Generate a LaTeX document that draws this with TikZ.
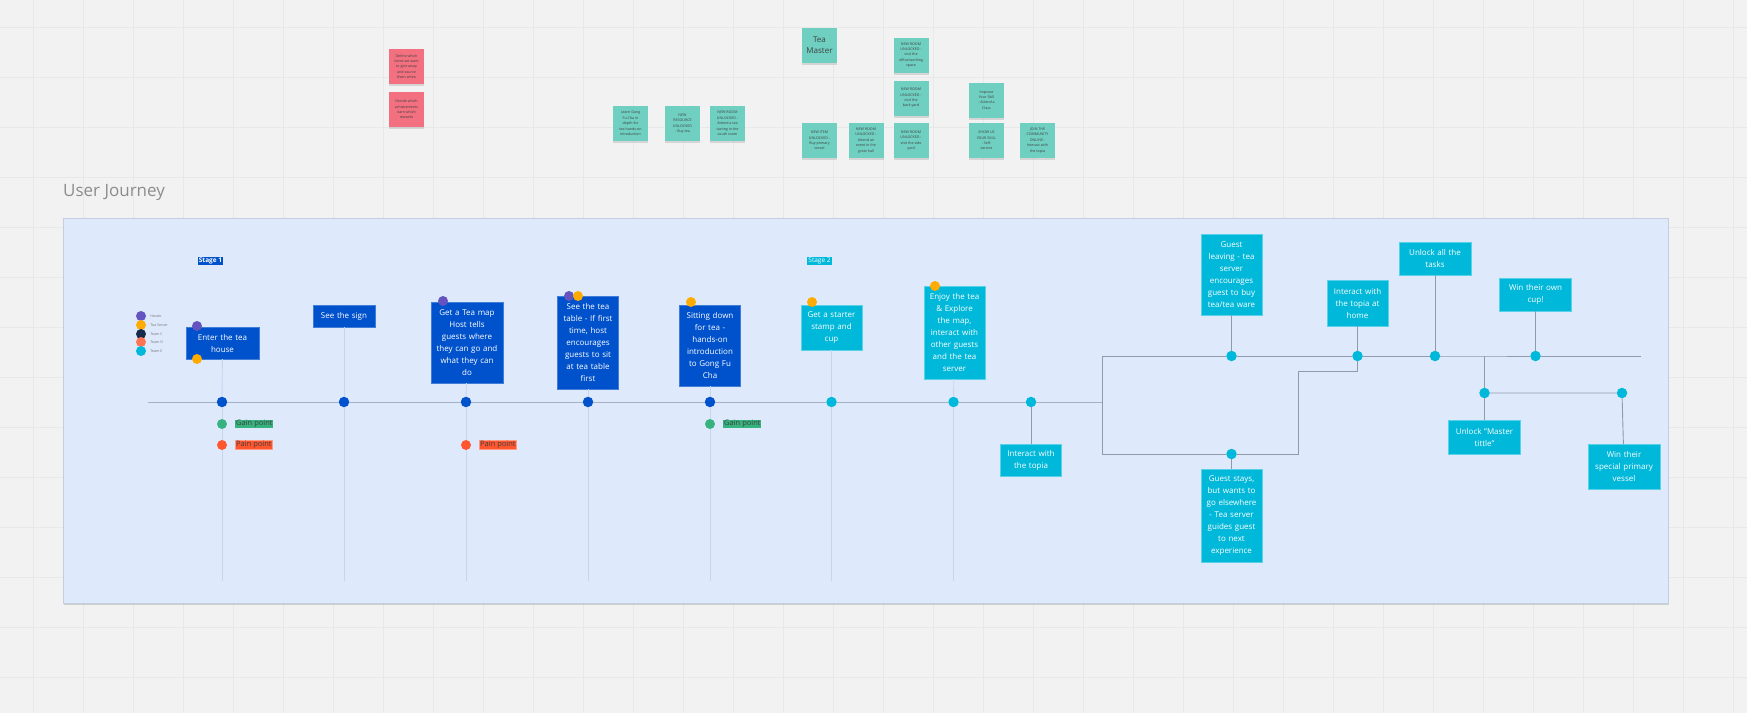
\documentclass[tikz,border=0pt]{standalone}
\usepackage{fontspec}
\setmainfont{Open Sans}
\usepackage{tikz}
\usetikzlibrary{%
  positioning
 ,shadows
 ,calc
}
\definecolor{mirobg}{HTML}{F2F2F2}
\definecolor{gridc}{HTML}{E8E8E8}
\definecolor{panelc}{HTML}{DEEAFC}
\definecolor{paneld}{HTML}{C3CFE0}
\definecolor{darkb}{HTML}{0052CC}
\definecolor{cyanb}{HTML}{00B8D9}
\definecolor{hostc}{HTML}{6554C0}
\definecolor{serverc}{HTML}{FFAB00}
\definecolor{teamc}{HTML}{172B4D}
\definecolor{teamd}{HTML}{FF7452}
\definecolor{gainc}{HTML}{36B37E}
\definecolor{painc}{HTML}{FF5630}
\definecolor{tlc}{HTML}{A4B2C6}
\definecolor{vlc}{HTML}{C5D5EE}
\definecolor{lnkc}{HTML}{8F9AAB}
\definecolor{stickyt}{HTML}{6FCFC1}
\definecolor{stickyp}{HTML}{F2707F}
\tikzstyle{jr}=[x=1pt,y=-1pt,font=\fontsize{8}{12}\selectfont]
\tikzstyle{dbx}=[rectangle,draw=darkb!75!white,fill=darkb,text=white,align=center,inner sep=0pt]
\tikzstyle{cbx}=[rectangle,draw=cyanb!65!white,fill=cyanb,text=white,align=center,inner sep=0pt]
\tikzstyle{dt}=[circle,fill=darkb,inner sep=0pt,minimum size=10.5pt]
\tikzstyle{ct}=[dt,fill=cyanb]
\tikzstyle{who}=[circle,inner sep=0pt,minimum size=10pt]
\tikzstyle{stg}=[rectangle,inner sep=1pt,text=white,font=\fontsize{6.5}{8}\selectfont]
\tikzstyle{plab}=[rectangle,inner sep=0.8pt,text=black!75,font=\fontsize{7.5}{9}\selectfont]
\tikzstyle{leg}=[text=black!55,inner sep=0pt,font=\fontsize{3.6}{4}\selectfont]
\tikzstyle{stk}=[rectangle,minimum width=35pt,minimum height=35pt,inner sep=0pt,align=center,
  text=black!75,font=\fontsize{3.6}{5.4}\selectfont,
  drop shadow={shadow xshift=0pt,shadow yshift=-2pt,opacity=.25}]
\tikzstyle{tl}=[draw=tlc,line width=0.9pt]
\tikzstyle{vl}=[draw=vlc,line width=0.9pt]
\tikzstyle{lnk}=[draw=lnkc,line width=0.9pt]

\begin{document}
\begin{tikzpicture}[jr]
  \useasboundingbox (0,0) rectangle (1747,713);
  \fill[mirobg] (0,0) rectangle (1747,713);
  \foreach \gx in {33,83,...,1733} \draw[gridc] (\gx,0) -- (\gx,713);
  \foreach \gy in {27,77,...,677} \draw[gridc] (0,\gy) -- (1747,\gy);

  % sticky notes
  \node[stk,fill=stickyp] (p_1) at (406.5,66.5) {Define which\\items we want\\to give away\\and source\\them when};
  \node[stk,fill=stickyp] (p_2) at (406.5,109.5) {Decide which\\achievements\\earn which\\rewards};
  \node[stk,fill=stickyt] (t_1) at (630.5,123.5) {Learn Gong\\Fu Cha in\\depth for\\tea hands-on\\introduction};
  \node[stk,fill=stickyt] (t_2) at (682.5,123.5) {NEW\\RESOURCE\\UNLOCKED\\- Buy tea};
  \node[stk,fill=stickyt] (t_3) at (727.5,123.5) {NEW ROOM\\UNLOCKED -\\Attend a tea\\tasting in the\\south room};
  \node[stk,fill=stickyt,font=\fontsize{8}{11}\selectfont] (t_0) at (819.5,45) {Tea\\Master};
  \node[stk,fill=stickyt] (t_4) at (911,55) {NEW ROOM\\UNLOCKED -\\visit the\\office/working\\space};
  \node[stk,fill=stickyt] (t_5) at (911,98) {NEW ROOM\\UNLOCKED -\\visit the\\back yard};
  \node[stk,fill=stickyt] (t_6) at (911,140.5) {NEW ROOM\\UNLOCKED -\\visit the side\\yard};
  \node[stk,fill=stickyt] (t_7) at (819.5,140.5) {NEW ITEM\\UNLOCKED -\\Buy primary\\vessel};
  \node[stk,fill=stickyt] (t_8) at (866,140.5) {NEW ROOM\\UNLOCKED -\\Attend an\\event in the\\great hall};
  \node[stk,fill=stickyt] (t_9) at (986.5,100) {Improve\\Your Skill\\- Attend a\\Class};
  \node[stk,fill=stickyt] (t_10) at (986.5,140.5) {SHOW US\\YOUR SKILL\\- Self-\\service};
  \node[stk,fill=stickyt] (t_11) at (1037.5,140.5) {JOIN THE\\COMMUNITY\\ONLINE -\\Interact with\\the topia};

  \node[anchor=base west,text=black!45,font=\fontsize{17}{20}\selectfont,inner sep=0pt] (title) at (63,196) {User Journey};
  \fill[panelc,draw=paneld,drop shadow={shadow xshift=1pt,shadow yshift=-2pt,opacity=.3}] (63,218) rectangle (1668,603);

  \node[stg,fill=darkb,font=\fontsize{6.5}{8}\selectfont\bfseries] (stage_1) at (210.5,261) {Stage 1};
  \node[stg,fill=cyanb] (stage_2) at (819.5,261) {Stage 2};

  % legend
  \node[who,fill=hostc] (lg_1) at (141,316) {};
  \node[who,fill=serverc] (lg_2) at (141,325) {};
  \node[who,fill=teamc] (lg_3) at (141,334) {};
  \node[who,fill=teamd] (lg_4) at (141,342) {};
  \node[who,fill=cyanb] (lg_5) at (141,351) {};
  \node[leg,right=4pt of lg_1] {Hoster};
  \node[leg,right=4pt of lg_2] {Tea Server};
  \node[leg,right=4pt of lg_3] {Team C};
  \node[leg,right=4pt of lg_4] {Team D};
  \node[leg,right=4pt of lg_5] {Team E};

  % steps
  \node[dbx,text width=73pt,minimum height=32pt] (s_1) at (222.5,343) {Enter the tea\\house};
  \node[dbx,text width=62pt,minimum height=22pt] (s_2) at (344,316) {See the sign};
  \node[dbx,text width=72pt,minimum height=81pt] (s_3) at (467,342.5) {Get a Tea map\\Host tells\\guests where\\they can go and\\what they can\\do};
  \node[dbx,text width=61pt,minimum height=93pt] (s_4) at (588,342.5) {See the tea\\table - If first\\time, host\\encourages\\guests to sit\\at tea table\\first};
  \node[dbx,text width=61pt,minimum height=81pt] (s_5) at (710,345.5) {Sitting down\\for tea -\\hands-on\\introduction\\to Gong Fu\\Cha};
  \node[cbx,text width=61pt,minimum height=45pt] (s_6) at (831.5,327.5) {Get a starter\\stamp and\\cup};
  \node[cbx,text width=61pt,minimum height=93pt] (s_7) at (954.5,332.5) {Enjoy the tea\\\& Explore\\the map,\\interact with\\other guests\\and the tea\\server};
  \node[cbx,text width=61pt,minimum height=32pt] (s_8) at (1031,460) {Interact with\\the topia};
  \node[cbx,text width=61pt,minimum height=81pt] (s_9) at (1231.5,274.5) {Guest\\leaving - tea\\server\\encourages\\guest to buy\\tea/tea ware};
  \node[cbx,text width=61pt,minimum height=93pt] (s_10) at (1231.5,515.5) {Guest stays,\\but wants to\\go elsewhere\\- Tea server\\guides guest\\to next\\experience};
  \node[cbx,text width=61pt,minimum height=46pt] (s_11) at (1357.5,303) {Interact with\\the topia at\\home};
  \node[cbx,text width=72pt,minimum height=33pt] (s_12) at (1435,258.5) {Unlock all the\\tasks};
  \node[cbx,text width=72pt,minimum height=33pt] (s_13) at (1535.5,294.5) {Win their own\\cup!};
  \node[cbx,text width=72pt,minimum height=34pt] (s_14) at (1484.5,437) {Unlock "Master\\tittle"};
  \node[cbx,text width=72pt,minimum height=45pt] (s_15) at (1624,466.5) {Win their\\special primary\\vessel};

  % who is involved
  \node[who,fill=hostc] at (197,326) {};
  \node[who,fill=serverc] at (197,359) {};
  \node[who,fill=hostc] at (443,301) {};
  \node[who,fill=hostc] at (569,296) {};
  \node[who,fill=serverc] at (578,296) {};
  \node[who,fill=serverc] at (691,302) {};
  \node[who,fill=serverc] at (812,302) {};
  \node[who,fill=serverc] at (935,286) {};

  % timeline points
  \node[dt] (d_1) at (222,402) {};
  \node[dt] (d_2) at (344,402) {};
  \node[dt] (d_3) at (466,402) {};
  \node[dt] (d_4) at (588,402) {};
  \node[dt] (d_5) at (710,402) {};
  \node[ct] (d_6) at (831.5,402) {};
  \node[ct] (d_7) at (953.5,402) {};
  \node[ct] (d_8) at (1031,402) {};
  \node[ct] (u_1) at (1231.5,356) {};
  \node[ct] (u_2) at (1357.5,356) {};
  \node[ct] (u_3) at (1435,356) {};
  \node[ct] (u_4) at (1535.5,356) {};
  \node[ct] (l_1) at (1231.5,454) {};
  \node[ct] (m_1) at (1484.5,393) {};
  \node[ct] (m_2) at (1622,393) {};
  \coordinate (tl_0) at (148,402);
  \coordinate (br_m) at (1102,402);
  \coordinate (br_u) at (1102,356);
  \coordinate (br_l) at (1102,454);
  \coordinate (j_1) at (1298,454);
  \coordinate (j_2) at (1298,371);
  \coordinate (j_3) at (1357.5,371);
  \coordinate (k_1) at (1484.5,356);
  \coordinate (end_u) at (1641,356);
  \foreach \i/\bx in {1/222,2/344,3/466,4/588,5/710,6/831.5,7/953.5}
    \coordinate (b_\i) at (\bx,581);

  % gain and pain
  \node[who,fill=gainc] (g_1) at (222,424) {};
  \node[who,fill=painc] (g_2) at (222,445) {};
  \node[who,fill=painc] (g_3) at (466,445) {};
  \node[who,fill=gainc] (g_4) at (710,424) {};
  \node[plab,fill=gainc,right=8pt of g_1] {Gain point};
  \node[plab,fill=painc,draw=painc!60!white,right=8pt of g_2] {Pain point};
  \node[plab,fill=painc,draw=painc!60!white,right=8pt of g_3] {Pain point};
  \node[plab,fill=gainc,right=8pt of g_4] {Gain point};

  % connectors
  \draw[tl] (tl_0) -- (d_1) -- (d_2) -- (d_3) -- (d_4) -- (d_5) -- (d_6) -- (d_7) -- (d_8) -- (br_m);
  \path[vl]
    (s_1) edge (d_1) (d_1) edge (g_1) (g_1) edge (g_2) (g_2) edge (b_1)
    (s_2) edge (d_2) (d_2) edge (b_2)
    (s_3) edge (d_3) (d_3) edge (g_3) (g_3) edge (b_3)
    (s_4) edge (d_4) (d_4) edge (b_4)
    (s_5) edge (d_5) (d_5) edge (g_4) (g_4) edge (b_5)
    (s_6) edge (d_6) (d_6) edge (b_6)
    (s_7) edge (d_7) (d_7) edge (b_7);
  \draw[lnk] (br_u) -- (br_l);
  \draw[lnk] (br_u) -- (u_1) -- (u_2) -- (u_3) -- (k_1) -- (u_4) -- (end_u);
  \draw[lnk] (br_l) -- (l_1) -- (j_1) -- (j_2) -- (j_3) -- (u_2);
  \draw[lnk] (k_1) -- (m_1) -- (s_14);
  \draw[lnk] (m_1) -- (m_2) -- (s_15);
  \path[lnk]
    (d_8) edge (s_8)
    (s_9) edge (u_1)
    (l_1) edge (s_10)
    (s_11) edge (u_2)
    (s_12) edge (u_3)
    (s_13) edge (u_4);
\end{tikzpicture}
\end{document}
